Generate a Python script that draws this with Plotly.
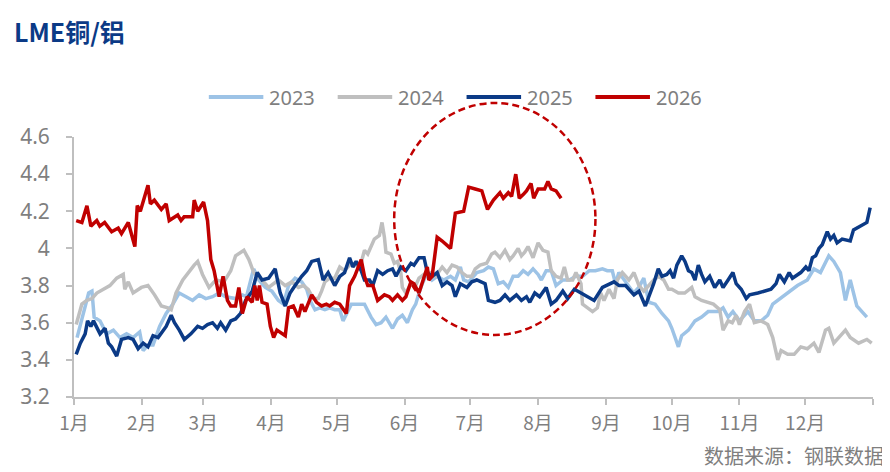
import plotly.graph_objects as go

# x = day of the year (0 = 1月1日)
days_2023 = [1.4, 4.4, 6.7, 8.2, 9.2, 11.9, 14.9, 18.0, 21.0, 24.0, 27.0, 30.0, 31.6, 33.8, 36.1, 39.1,
             42.1, 45.2, 48.1, 51.2, 54.2, 57.2, 60.2, 63.3, 66.3, 69.3, 73.8, 76.9, 78.8, 81.4, 82.1,
             84.4, 87.4, 90.4, 93.4, 95.7, 98.0, 101.0, 104.0, 106.3, 107.8, 110.1, 112.3, 114.6,
             116.8, 119.1, 121.4, 122.9, 124.4, 126.7, 129.7, 132.7, 135.7, 138.0, 140.3, 142.5,
             145.5, 147.8, 150.0, 152.3, 154.6, 156.1, 157.6, 159.1, 161.4, 163.6, 165.9, 168.9,
             172.0, 174.2, 176.5, 178.0, 180.3, 184.0, 187.1, 189.3, 191.6, 193.8, 196.1, 198.4,
             200.6, 202.9, 205.2, 207.4, 209.7, 212.0, 213.5, 215.7, 218.0, 220.2, 223.3, 226.3,
             229.3, 232.3, 235.4, 238.2, 241.4, 243.6, 245.9, 247.4, 248.9, 251.2, 253.4, 255.7,
             258.0, 260.3, 262.6, 265.5, 268.6, 271.6, 273.1, 276.1, 277.6, 280.7, 283.7, 286.7,
             289.7, 292.0, 294.2, 296.5, 298.8, 301.0, 304.0, 307.8, 310.8, 313.9, 316.9, 319.2,
             321.5, 326.0, 330.5, 335.0, 338.0, 341.0, 344.8, 347.1, 350.1, 352.4, 354.6, 357.6, 362.2]
vals_2023 = [3.52, 3.65, 3.76, 3.77, 3.63, 3.61, 3.54, 3.56, 3.52, 3.54, 3.52, 3.55, 3.45, 3.48, 3.48, 3.58,
             3.65, 3.70, 3.76, 3.74, 3.72, 3.75, 3.73, 3.74, 3.76, 3.74, 3.73, 3.75, 3.74, 3.86, 3.89,
             3.83, 3.79, 3.77, 3.72, 3.70, 3.80, 3.84, 3.82, 3.78, 3.72, 3.67, 3.68, 3.67,
             3.68, 3.67, 3.67, 3.61, 3.65, 3.70, 3.70, 3.70, 3.63, 3.59, 3.60, 3.63,
             3.57, 3.62, 3.64, 3.60, 3.67, 3.70, 3.76, 3.81, 3.87, 3.83, 3.85, 3.83,
             3.85, 3.83, 3.90, 3.83, 3.82, 3.87, 3.88, 3.90, 3.89, 3.81, 3.82, 3.79,
             3.85, 3.85, 3.88, 3.86, 3.89, 3.86, 3.83, 3.88, 3.88, 3.80, 3.83, 3.83,
             3.85, 3.85, 3.88, 3.88, 3.89, 3.88, 3.88, 3.81, 3.87, 3.83, 3.80, 3.76,
             3.79, 3.84, 3.71, 3.70, 3.65, 3.61, 3.57, 3.47, 3.53, 3.56, 3.61, 3.63,
             3.66, 3.66, 3.66, 3.68, 3.63, 3.66, 3.61, 3.66, 3.61, 3.61, 3.64, 3.70,
             3.72, 3.76, 3.80, 3.83, 3.89, 3.87, 3.96, 3.93, 3.87, 3.72, 3.83, 3.69, 3.63]

days_2024 = [1.0, 3.6, 5.9, 8.2, 10.4, 13.5, 16.4, 19.5, 22.5, 23.2, 24.8, 27.0, 30.8, 33.8, 36.8, 39.9,
             42.9, 44.4, 46.6, 49.7, 52.7, 54.9, 56.5, 58.7, 61.7, 64.8, 68.5, 71.6, 73.8, 77.6, 79.9,
             82.1, 85.9, 88.9, 93.4, 96.5, 99.5, 102.5, 104.8, 107.0, 109.3, 111.6, 113.1, 114.6,
             116.8, 119.1, 121.4, 123.6, 125.9, 128.2, 130.4, 132.7, 134.2, 135.7, 137.2, 139.5,
             140.7, 141.8, 142.5, 144.8, 146.3, 147.8, 149.3, 150.0, 151.6, 153.9, 156.1, 157.6,
             159.9, 162.9, 165.2, 168.2, 170.4, 172.7, 175.0, 177.2, 179.5, 181.7, 183.3, 185.5,
             188.5, 190.8, 192.3, 194.6, 196.9, 199.1, 200.6, 202.9, 204.4, 205.9, 207.4, 209.7,
             212.0, 214.2, 216.5, 218.0, 220.2, 222.5, 224.0, 225.5, 227.8, 229.3, 231.6, 232.3,
             234.6, 236.9, 239.1, 240.6, 242.1, 244.4, 246.7, 248.2, 250.5, 252.0, 253.5, 255.8,
             258.1, 260.3, 262.6, 264.8, 267.1, 269.4, 271.6, 273.1, 276.1, 279.0, 282.2, 283.7,
             286.7, 289.7, 292.1, 295.0, 296.5, 298.8, 300.7, 302.5, 304.0, 306.3, 308.6, 310.8,
             313.9, 316.9, 319.2, 321.5, 323.0, 326.0, 329.0, 332.0, 335.0, 338.0, 340.3, 343.3,
             344.8, 347.1, 350.1, 352.4, 354.6, 358.4, 362.2, 364.4]
vals_2024 = [3.59, 3.70, 3.72, 3.73, 3.76, 3.78, 3.80, 3.84, 3.86, 3.78, 3.82, 3.76, 3.79, 3.80, 3.75, 3.69,
             3.68, 3.67, 3.76, 3.83, 3.88, 3.91, 3.93, 3.86, 3.79, 3.83, 3.82, 3.88, 3.96, 3.99, 3.94,
             3.87, 3.83, 3.79, 3.83, 3.80, 3.82, 3.79, 3.80, 3.78, 3.73, 3.73, 3.77, 3.82,
             3.84, 3.84, 3.90, 3.88, 3.91, 3.92, 3.89, 3.99, 3.97, 4.01, 4.05, 4.07,
             4.14, 4.06, 3.98, 3.97, 3.92, 3.93, 3.87, 3.79, 3.76, 3.81, 3.80, 3.84,
             3.86, 3.87, 3.85, 3.90, 3.87, 3.91, 3.90, 3.87, 3.85, 3.85, 3.89, 3.91,
             3.92, 3.97, 3.98, 3.95, 3.99, 3.94, 3.96, 4.00, 3.96, 3.98, 4.01, 3.95,
             4.03, 3.99, 3.98, 3.88, 3.85, 3.84, 3.90, 3.83, 3.83, 3.87, 3.81, 3.70,
             3.68, 3.66, 3.68, 3.76, 3.72, 3.78, 3.73, 3.83, 3.87, 3.85, 3.83, 3.87,
             3.80, 3.77, 3.80, 3.83, 3.85, 3.83, 3.78, 3.78, 3.76, 3.76, 3.79, 3.74,
             3.72, 3.71, 3.70, 3.67, 3.56, 3.61, 3.60, 3.64, 3.59, 3.66, 3.70, 3.60,
             3.61, 3.59, 3.52, 3.40, 3.45, 3.43, 3.43, 3.47, 3.46, 3.49, 3.44, 3.56,
             3.57, 3.49, 3.53, 3.56, 3.52, 3.49, 3.51, 3.49]

days_2025 = [1.0, 2.9, 5.1, 6.2, 7.7, 8.9, 11.9, 14.2, 15.7, 17.2, 19.5, 21.7, 24.8, 27.0, 29.3, 31.6,
             33.8, 36.1, 38.4, 40.6, 42.1, 44.4, 45.9, 48.1, 50.4, 53.4, 56.5, 58.7, 61.0, 63.3,
             65.5, 67.0, 69.3, 71.6, 73.8, 76.1, 78.4, 81.4, 83.7, 85.9, 88.9, 91.9, 94.2, 96.5,
             98.7, 101.0, 104.0, 106.3, 108.6, 111.6, 113.8, 116.1, 119.1, 121.4, 123.6, 125.9,
             127.4, 128.9, 131.2, 132.7, 135.0, 136.5, 138.7, 141.0, 143.3, 145.5, 147.1, 149.3,
             151.6, 153.9, 155.3, 157.6, 159.9, 161.4, 163.6, 165.9, 168.2, 170.4, 172.7, 174.2,
             176.5, 179.5, 181.7, 184.0, 187.8, 189.3, 192.3, 194.6, 196.9, 199.1, 202.1, 204.4,
             206.7, 208.2, 210.5, 212.7, 215.7, 218.0, 220.2, 223.3, 225.5, 228.6, 231.6, 233.8,
             237.6, 241.4, 246.7, 249.0, 252.0, 255.8, 258.1, 261.0, 262.6, 264.8, 266.9, 268.6,
             270.8, 272.3, 273.9, 275.4, 277.6, 279.1, 280.7, 282.2, 283.7, 285.2, 286.7, 288.2,
             290.4, 292.7, 295.0, 296.5, 298.8, 301.0, 302.5, 304.8, 307.1, 308.6, 312.4, 315.4,
             318.4, 320.7, 322.2, 324.5, 326.7, 328.2, 330.5, 332.0, 334.3, 335.7, 337.3, 338.8,
             340.3, 341.8, 344.1, 345.6, 347.1, 348.6, 350.9, 354.6, 356.1, 359.2, 362.2, 363.7]
vals_2025 = [3.43, 3.49, 3.54, 3.61, 3.58, 3.61, 3.54, 3.57, 3.49, 3.47, 3.42, 3.51, 3.52, 3.51, 3.46, 3.49,
             3.47, 3.53, 3.52, 3.56, 3.58, 3.64, 3.60, 3.56, 3.51, 3.54, 3.58, 3.57, 3.59, 3.60,
             3.57, 3.60, 3.56, 3.61, 3.62, 3.65, 3.72, 3.77, 3.87, 3.83, 3.84, 3.89, 3.76, 3.69,
             3.76, 3.80, 3.85, 3.88, 3.93, 3.94, 3.83, 3.87, 3.80, 3.85, 3.87, 3.95,
             3.90, 3.93, 3.88, 3.83, 3.83, 3.80, 3.88, 3.86, 3.88, 3.89, 3.85, 3.90,
             3.88, 3.92, 3.91, 3.95, 3.95, 3.87, 3.85, 3.87, 3.80, 3.82, 3.80, 3.74,
             3.81, 3.79, 3.82, 3.83, 3.81, 3.72, 3.71, 3.72, 3.75, 3.72, 3.75, 3.72,
             3.74, 3.71, 3.76, 3.74, 3.79, 3.70, 3.72, 3.77, 3.73, 3.78, 3.76, 3.74,
             3.72, 3.79, 3.82, 3.80, 3.80, 3.75, 3.77, 3.69, 3.74, 3.81, 3.89, 3.85,
             3.86, 3.88, 3.84, 3.91, 3.96, 3.93, 3.88, 3.87, 3.83, 3.91, 3.86, 3.82,
             3.85, 3.79, 3.83, 3.79, 3.83, 3.87, 3.81, 3.78, 3.73, 3.75, 3.76, 3.77,
             3.78, 3.81, 3.86, 3.82, 3.87, 3.84, 3.86, 3.87, 3.90, 3.88, 3.95, 3.96,
             4.00, 4.02, 4.09, 4.05, 4.07, 4.03, 4.05, 4.04, 4.10, 4.12, 4.14, 4.22]

days_2026 = [1.0, 3.6, 5.9, 7.7, 10.4, 11.8, 14.0, 17.2, 20.2, 21.7, 24.8, 27.8, 28.9, 30.3, 33.8, 34.9,
             36.7, 39.9, 42.1, 43.5, 47.4, 48.9, 50.3, 54.2, 54.9, 56.5, 59.2, 61.0, 62.5, 64.0,
             66.3, 68.1, 70.1, 71.6, 73.8, 75.3, 76.9, 79.1, 81.4, 82.6, 83.7, 84.7, 85.9, 88.2,
             89.7, 91.2, 92.7, 96.5, 98.0, 100.2, 102.5, 104.0, 105.5, 108.6, 110.8, 113.1, 115.3,
             116.8, 119.1, 121.4, 124.4, 125.9, 128.2, 131.2, 132.7, 134.2, 136.5, 138.7, 141.8,
             144.0, 145.5, 147.8, 150.0, 151.6, 153.9, 155.3, 157.6, 159.9, 161.4, 162.1, 163.6,
             165.9, 168.2, 172.0, 174.2, 178.0, 180.3, 183.3, 186.3, 188.9, 191.6, 194.6, 196.1,
             198.4, 199.9, 201.8, 203.4, 205.2, 206.7, 208.8, 210.0, 212.0, 215.0, 216.5, 218.0,
             220.2, 222.5]
vals_2026 = [4.15, 4.14, 4.23, 4.12, 4.15, 4.12, 4.14, 4.09, 4.11, 4.08, 4.14, 4.01, 4.23, 4.20, 4.34, 4.24,
             4.26, 4.21, 4.24, 4.15, 4.18, 4.15, 4.17, 4.17, 4.26, 4.20, 4.25, 4.15, 3.94, 3.88,
             3.74, 3.85, 3.72, 3.69, 3.69, 3.79, 3.65, 3.74, 3.71, 3.80, 3.72, 3.80, 3.71, 3.70,
             3.58, 3.52, 3.56, 3.53, 3.68, 3.69, 3.63, 3.70, 3.66, 3.75, 3.71, 3.69, 3.70,
             3.69, 3.71, 3.70, 3.65, 3.80, 3.85, 3.94, 3.85, 3.80, 3.80, 3.72, 3.75,
             3.74, 3.72, 3.75, 3.72, 3.74, 3.82, 3.81, 3.76, 3.84, 3.90, 3.83, 3.85,
             4.06, 4.04, 4.00, 4.19, 4.20, 4.33, 4.32, 4.31, 4.21, 4.26, 4.30, 4.27,
             4.30, 4.28, 4.40, 4.27, 4.29, 4.31, 4.35, 4.27, 4.32, 4.32, 4.36, 4.32,
             4.31, 4.27]

month_starts = [0, 31, 59, 90, 120, 151, 181, 212, 243, 273, 304, 334, 365]
month_labels = ["1月", "2月", "3月", "4月", "5月", "6月", "7月", "8月", "9月", "10月", "11月", "12月", ""]
y_ticks = [3.2, 3.4, 3.6, 3.8, 4.0, 4.2, 4.4, 4.6]
y_labels = ["3.2", "3.4", "3.6", "3.8", "4", "4.2", "4.4", "4.6"]

series = [
    ("2023", days_2023, vals_2023, "#9DC3E6"),
    ("2024", days_2024, vals_2024, "#BFBFBF"),
    ("2025", days_2025, vals_2025, "#0B3A86"),
    ("2026", days_2026, vals_2026, "#C00000"),
]

# the page body adds an 8px offset, so the figure is drawn 8px smaller
# and all layout positions below are given in window pixels
OFF = 8
W, H = 890 - OFF, 472 - OFF
L, R, T, B = 67 - OFF, 17, 137 - OFF, 75
PW, PH = W - L - R, H - T - B


def px(x):
    return (x - OFF - L) / PW


def py(y):
    return (H - B - (y - OFF)) / PH


CJK = "Noto Sans CJK SC"
GREY = "#7F7F7F"

fig = go.Figure()
for name, xs, ys, color in series:
    fig.add_trace(go.Scatter(x=xs, y=ys, mode="lines", name=name,
                             line=dict(color=color, width=3.5), showlegend=False))

# hand-built legend (longer line samples than plotly's own)
shapes = []
annotations = []
for i, (name, xs, ys, color) in enumerate(series):
    x0 = 203 + i * 130
    shapes.append(dict(type="line", xref="paper", yref="paper",
                       x0=px(x0), x1=px(x0 + 55), y0=py(97), y1=py(97),
                       line=dict(color=color, width=4)))
    annotations.append(dict(text=name, xref="paper", yref="paper", x=px(x0 + 59), y=py(97),
                            xanchor="left", yanchor="middle", showarrow=False,
                            font=dict(family="Noto Sans", size=20, color=GREY)))

# dashed ellipse around the recent move
shapes.append(dict(type="circle", xref="paper", yref="paper",
                   x0=px(390), x1=px(593), y0=py(335), y1=py(103),
                   line=dict(color="#C00000", width=2.5, dash="7px,4px")))

annotations.append(dict(text="<b>LME铜/铝</b>", xref="paper", yref="paper", x=px(4), y=py(31),
                        xanchor="left", yanchor="middle", showarrow=False,
                        font=dict(family=CJK, size=25, color="#0B3A86")))
annotations.append(dict(text="数据来源：钢联数据", xref="paper", yref="paper", x=px(886), y=py(455),
                        xanchor="right", yanchor="middle", showarrow=False,
                        font=dict(family=CJK, size=20, color=GREY)))

fig.update_layout(
    width=W, height=H,
    margin=dict(l=L, r=R, t=T, b=B),
    paper_bgcolor="white", plot_bgcolor="white",
    shapes=shapes, annotations=annotations,
    xaxis=dict(range=[0, 365], tickvals=month_starts, ticktext=month_labels,
               showgrid=False, zeroline=False, showline=True, linecolor="#BFBFBF", linewidth=2,
               ticks="outside", ticklen=6, tickcolor="#BFBFBF", tickwidth=1.5,
               tickfont=dict(family=CJK, size=19, color=GREY), ticklabelstandoff=2),
    yaxis=dict(range=[3.2, 4.6], tickvals=y_ticks, ticktext=y_labels,
               showgrid=False, zeroline=False, showline=True, linecolor="#BFBFBF", linewidth=2,
               ticks="outside", ticklen=6, tickcolor="#BFBFBF", tickwidth=1.5,
               tickfont=dict(family="Noto Sans", size=21, color=GREY), ticklabelstandoff=12),
)

fig.write_html("out.html")
